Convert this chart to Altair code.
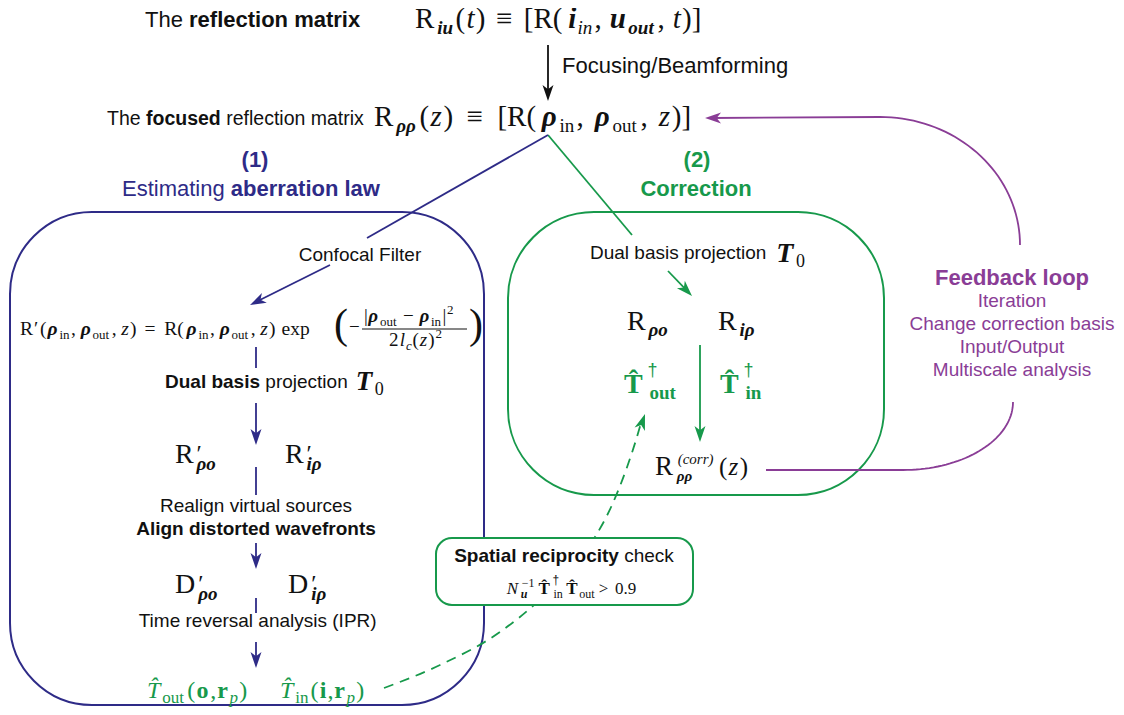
import math
import numpy as np
import pandas as pd
import altair as alt

BLUE = "#2e2b87"
GREEN = "#17994b"
PURPLE = "#8a3d96"
K = "#111111"

# ---------- approximate glyph advance widths (per 1000 em) ----------
def _tbl(pairs):
    d = {}
    for chars, w in pairs:
        for ch in chars:
            d[ch] = w / 1000
    return d

W_SANS = _tbl([(" ,./ft", 278), ("()-r", 333), ("ijl", 222), ("ckszvxyJ", 500),
               ("0123456789abdeghnopqu", 556), ("m", 833), ("w", 722), ("ABEKPSVXY", 667),
               ("CDHNRU", 722), ("FTZ", 611), ("GOQ", 778), ("I", 278), ("L", 556),
               ("M", 833), ("W", 944), ("†", 556)])
W_SANSB = _tbl([(" ,./", 278), ("()", 333), ("ijlI", 278), ("ft", 333), ("r", 389), ("z", 500),
                ("0123456789acekvsxy", 556), ("bdghnopqu", 611), ("m", 889), ("w", 778),
                ("ABCDHKNRU", 722), ("EPSVXY", 667), ("FTZL", 611), ("GOQ", 778), ("J", 556),
                ("M", 833), ("W", 944)])
W_SERIF = _tbl([(" ,.", 250), ("()[]fr", 333), ("ijlt", 278), ("s", 389), ("acez", 444),
                ("bdghknopquvxy0123456789", 500), ("m", 778), ("w", 722), ("=−>+<≡", 564),
                ("|", 200), ("R", 667), ("DN", 722), ("T", 611), ("′", 275), ("†", 500), ("ρ", 520)])
W_SERIFI = _tbl([(" ,.", 250), ("()", 333), ("iltj", 278), ("rsz", 389), ("ce", 444),
                 ("anopuv", 500), ("m", 722), ("N", 667), ("T", 556), ("R", 611), ("ρ", 500),
                 ("−", 675), ("1", 500)])
W_SERIFB = _tbl([(" ,.", 250), ("()", 333), ("i", 278), ("t", 333), ("r", 444), ("o", 500),
                 ("nup", 556), ("T", 667), ("R", 722), ("D", 722), ("†", 500)])
W_SERIFBI = _tbl([(" ,.", 250), ("it", 278), ("o", 500), ("u", 556), ("p", 500), ("T", 611), ("ρ", 530)])
TABLES = {"S": W_SANS, "SB": W_SANSB, "r": W_SERIF, "i": W_SERIFI, "b": W_SERIFB, "bi": W_SERIFBI}
MATHW = 1.15

STYLE_FONT = {
    "S": ("Liberation Sans", "normal", "normal"),
    "SB": ("Liberation Sans", "bold", "normal"),
    "r": ("Liberation Serif", "normal", "normal"),
    "i": ("Liberation Serif", "normal", "italic"),
    "b": ("Liberation Serif", "bold", "normal"),
    "bi": ("Liberation Serif", "bold", "italic"),
}


def wscale(st):
    return 1 if st in ("S", "SB") else MATHW


def tw(text, st, size):
    t = TABLES[st]
    w = sum(t.get(ch, 0.5) for ch in text if ch != "\u0302")
    return w * size * wscale(st)


def P(text, st, size, dy=0, gap=0, adv=None):
    return (text, st, size, dy, gap, adv)


H = "T\u0302"

# ---------- text rows: (x, baseline y, anchor, colour, pieces) ----------
ROWS = [
    (145, 27, "left", K, [P("The ", "S", 22), P("reflection matrix", "SB", 22)]),
    (415, 28, "left", K, [P("R", "r", 29), P("iu", "bi", 19, 6), P("(", "r", 29), P("t", "i", 29),
                          P(")", "r", 29), P("≡", "r", 29, 0, 9), P("[R(", "r", 29, 0, 9),
                          P("i", "bi", 29), P("in", "i", 19, 6), P(",", "r", 29),
                          P("u", "bi", 29, 0, 7), P("out", "bi", 19, 6), P(",", "r", 29),
                          P("t", "i", 29, 0, 7), P(")]", "r", 29)]),
    (562, 73, "left", K, [P("Focusing/Beamforming", "S", 22)]),
    (107, 125, "left", K, [P("The ", "S", 19.5), P("focused", "SB", 19.5), P(" reflection matrix", "S", 19.5)]),
    (374, 126, "left", K, [P("R", "r", 29), P("ρρ", "bi", 19, 6), P("(", "r", 29), P("z", "i", 29),
                           P(")", "r", 29), P("≡", "r", 29, 0, 12), P("[R(", "r", 29, 0, 12),
                           P("ρ", "bi", 29), P("in", "r", 19, 6), P(",", "r", 29),
                           P("ρ", "bi", 29, 0, 10), P("out", "r", 19, 6), P(",", "r", 29),
                           P("z", "i", 29, 0, 10), P(")]", "r", 29)]),
    (255, 167, "center", BLUE, [P("(1)", "SB", 22)]),
    (122, 196, "left", BLUE, [P("Estimating ", "S", 22), P("aberration law", "SB", 22)]),
    (697, 167, "center", GREEN, [P("(2)", "SB", 22)]),
    (696, 196, "center", GREEN, [P("Correction", "SB", 22)]),
    (360, 261, "center", K, [P("Confocal Filter", "S", 19)]),
    (590, 259, "left", K, [P("Dual basis projection", "S", 19), P("T", "bi", 28, 3, 10), P("0", "r", 18, 8)]),
    # confocal filter formula
    (20, 335, "left", K, [P("R", "r", 19.5), P("′", "r", 19.5, 0, -1), P("(", "r", 19.5), P("ρ", "bi", 19.5),
                          P("in", "r", 13, 4), P(",", "r", 19.5), P("ρ", "bi", 19.5, 0, 4),
                          P("out", "r", 13, 4), P(",", "r", 19.5), P("z", "i", 19.5, 0, 4), P(")", "r", 19.5),
                          P("=", "r", 19.5, 0, 7), P("R(", "r", 19.5, 0, 7), P("ρ", "bi", 19.5),
                          P("in", "r", 13, 4), P(",", "r", 19.5), P("ρ", "bi", 19.5, 0, 4),
                          P("out", "r", 13, 4), P(",", "r", 19.5), P("z", "i", 19.5, 0, 4), P(")", "r", 19.5),
                          P("exp", "r", 19.5, 0, 5)]),
    (334, 338, "left", K, [P("(", "r", 42)]),
    (469, 338, "left", K, [P(")", "r", 42)]),
    (349, 333, "left", K, [P("−", "r", 19)]),
    (364, 322, "left", K, [P("|", "r", 19), P("ρ", "bi", 19), P("out", "r", 13, 4), P("−", "r", 19, 0, 4),
                           P("ρ", "bi", 19, 0, 4), P("in", "r", 13, 4), P("|", "r", 19), P("2", "r", 13, -8)]),
    (416, 346, "center", K, [P("2", "r", 19), P("l", "i", 19), P("c", "i", 13, 4), P("(", "r", 19),
                             P("z", "i", 19), P(")", "r", 19), P("2", "r", 13, -8)]),
    (165, 388, "left", K, [P("Dual basis", "SB", 19), P(" projection", "S", 19),
                           P("T", "bi", 27, 2, 8), P("0", "r", 18, 7)]),
    (175, 463, "left", K, [P("R", "r", 28), P("′", "r", 24, -2, 0, 0), P("ρo", "bi", 19, 7)]),
    (285, 463, "left", K, [P("R", "r", 28), P("′", "r", 24, -2, 0, 0), P("iρ", "bi", 19, 7)]),
    (256, 512, "center", K, [P("Realign virtual sources", "S", 19)]),
    (256, 535, "center", K, [P("Align distorted wavefronts", "SB", 19)]),
    (175, 593, "left", K, [P("D", "r", 28), P("′", "r", 24, -2, 0, 0), P("ρo", "bi", 19, 7)]),
    (288, 593, "left", K, [P("D", "r", 28), P("′", "r", 24, -2, 0, 0), P("iρ", "bi", 19, 7)]),
    (258, 627, "center", K, [P("Time reversal analysis (IPR)", "S", 19)]),
    (147, 698, "left", GREEN, [P(H, "i", 24), P("out", "r", 17, 5), P("(", "r", 24), P("o", "b", 24),
                               P(",", "r", 24), P("r", "b", 24), P("p", "i", 17, 5), P(")", "r", 24)]),
    (280, 698, "left", GREEN, [P(H, "i", 24), P("in", "r", 17, 5), P("(", "r", 24), P("i", "b", 24),
                               P(",", "r", 24), P("r", "b", 24), P("p", "i", 17, 5), P(")", "r", 24)]),
    # correction box
    (627, 330, "left", K, [P("R", "r", 28), P("ρo", "bi", 19, 6)]),
    (718, 330, "left", K, [P("R", "r", 28), P("iρ", "bi", 19, 6)]),
    (624, 393, "left", GREEN, [P(H, "b", 28), P("†", "S", 18, -17, 2, 0), P("out", "b", 19, 6, 2)]),
    (720, 393, "left", GREEN, [P(H, "b", 28), P("†", "S", 18, -17, 2, 0), P("in", "b", 19, 6, 2)]),
    (655, 475, "left", K, [P("R", "r", 27), P("ρρ", "bi", 15, 6, 1, 0), P("(corr)", "i", 15, -11, 1),
                           P("(", "r", 25), P("z", "i", 25), P(")", "r", 25)]),
    # reciprocity check
    (564, 562, "center", K, [P("Spatial reciprocity", "SB", 19), P(" check", "S", 19)]),
    (573, 594, "center", K, [P("N", "i", 17), P("u", "bi", 12, 4, 1, 0), P("−1", "r", 12, -7, 1),
                             P(H, "b", 17, 0, 2), P("†", "S", 12, -10, 1, 0), P("in", "r", 12, 4, 1),
                             P(H, "b", 17, 0, 2), P("out", "r", 12, 4), P(">", "r", 17, 0, 2),
                             P("0.9", "r", 17, 0, 5)]),
    # feedback loop
    (1012, 285, "center", PURPLE, [P("Feedback loop", "SB", 22)]),
    (1012, 307, "center", PURPLE, [P("Iteration", "S", 19)]),
    (1012, 330, "center", PURPLE, [P("Change correction basis", "S", 19)]),
    (1012, 353, "center", PURPLE, [P("Input/Output", "S", 19)]),
    (1012, 376, "center", PURPLE, [P("Multiscale analysis", "S", 19)]),
]

# ---------- boxes: (x1, y1, x2, y2, radius, colour, fill) ----------
BOXES = [
    (10, 212, 484, 705, 82, BLUE, None),
    (508, 212, 884, 495, 86, GREEN, None),
    (436, 538, 693, 605, 16, GREEN, "white"),
]

# ---------- straight segments: (id, colour, width, x1, y1, x2, y2, arrowhead) ----------
SEGMENTS = [
    ("focus", K, 1.8, 548, 45, 548, 101, True),
    ("b1", BLUE, 1.8, 548, 135, 367, 238, False),
    ("b2", BLUE, 1.8, 330, 265, 250, 305, True),
    ("g1", GREEN, 1.8, 548, 135, 632, 235, False),
    ("g2", GREEN, 1.8, 668, 271, 692, 296, True),
    ("g3", GREEN, 1.8, 700, 345, 700, 442, True),
    ("v1", BLUE, 1.8, 256, 347, 256, 368, False),
    ("v2", BLUE, 1.8, 256, 403, 256, 445, True),
    ("v3", BLUE, 1.8, 256, 467, 256, 495, False),
    ("v4", BLUE, 1.8, 256, 543, 256, 569, True),
    ("v5", BLUE, 1.8, 256, 598, 256, 613, False),
    ("v6", BLUE, 1.8, 256, 642, 256, 668, True),
    ("frac", K, 1.1, 362, 329, 467, 329, False),
]

# feedback loop geometry (straight run + elliptical quarter)
PURPLE_TOP = dict(tip=(705, 118), cx=880, cy=245, rx=140, ry=128)
PURPLE_BOT = dict(end=(766, 470), cx=903, cy=402, rx=110, ry=68)
# dashed reciprocity path
DASH_X = [384, 440, 500, 535, 568, 595, 612, 626, 636, 641]
DASH_Y = [688, 665, 632, 604, 570, 537, 505, 470, 440, 423]
DASH_TIP = (645, 414)

ARROW = "M0,0L0.75,2.2L0,1.6L-0.75,2.2Z"

# ---------- build tables ----------
def item_adv(it):
    text, st, size, dy, gap, adv = it
    if adv is not None:
        return gap + adv
    return gap + tw(text, st, size)


pieces = []
for x0, y0, anchor, color, items in ROWS:
    if anchor == "center":
        total = sum(item_adv(it) for it in items)
        cur = x0 - total / 2
    else:
        cur = x0
    for text, st, size, dy, gap, adv in items:
        sp = TABLES[st][" "] * size * wscale(st)
        lead = len(text) - len(text.lstrip(" "))
        trail = len(text) - len(text.rstrip(" "))
        core = text.strip(" ")
        xp = cur + gap + lead * sp
        pieces.append(dict(text=core, x=xp, y=y0 + dy, size=size, style=st, color=color))
        cur = xp + (adv if adv is not None else tw(core, st, size) + trail * sp)
text_df = pd.DataFrame(pieces)

line_rows = []
arrow_rows = []


def add_arrow(tx, ty, fx, fy, color):
    ang = math.degrees(math.atan2(tx - fx, -(ty - fy))) % 360
    arrow_rows.append(dict(x=tx, y=ty, ang=ang, color=color))


for sid, color, w, x1, y1, x2, y2, head in SEGMENTS:
    ex, ey = x2, y2
    if head:
        L = math.hypot(x2 - x1, y2 - y1)
        ex, ey = x2 - 6 * (x2 - x1) / L, y2 - 6 * (y2 - y1) / L
        add_arrow(x2, y2, x1, y1, color)
    line_rows += [dict(id=sid, grp=f"{color}|{w}", ord=0, x=x1, y=y1),
                  dict(id=sid, grp=f"{color}|{w}", ord=1, x=ex, y=ey)]

t = np.linspace(-np.pi / 2, 0, 40)
top_x = [PURPLE_TOP["tip"][0] + 6] + list(PURPLE_TOP["cx"] + PURPLE_TOP["rx"] * np.cos(t))
top_y = [PURPLE_TOP["tip"][1]] + list(PURPLE_TOP["cy"] + PURPLE_TOP["ry"] * np.sin(t))
add_arrow(PURPLE_TOP["tip"][0], PURPLE_TOP["tip"][1], PURPLE_TOP["tip"][0] + 20, PURPLE_TOP["tip"][1], PURPLE)
t2 = np.linspace(0, np.pi / 2, 40)
bot_x = list(PURPLE_BOT["cx"] + PURPLE_BOT["rx"] * np.cos(t2)) + [PURPLE_BOT["end"][0]]
bot_y = list(PURPLE_BOT["cy"] + PURPLE_BOT["ry"] * np.sin(t2)) + [PURPLE_BOT["end"][1]]
for sid, xs, ys in (("ptop", top_x, top_y), ("pbot", bot_x, bot_y)):
    for k, (a, b) in enumerate(zip(xs, ys)):
        line_rows.append(dict(id=sid, grp=f"{PURPLE}|1.8", ord=k, x=a, y=b))
line_df = pd.DataFrame(line_rows)

dash_df = pd.DataFrame(dict(x=DASH_X, y=DASH_Y, ord=range(len(DASH_X))))
add_arrow(DASH_TIP[0], DASH_TIP[1], DASH_X[-2], DASH_Y[-2], GREEN)
arrow_df = pd.DataFrame(arrow_rows)

# ---------- chart ----------
XS = alt.Scale(domain=[8, 1116], nice=False, zero=False)
YS = alt.Scale(domain=[8, 707], nice=False, zero=False, reverse=True)
X = alt.X("x:Q", scale=XS, axis=None)
Y = alt.Y("y:Q", scale=YS, axis=None)

box_layers, small_box = [], []
for x1, y1, x2, y2, r, col, fill in BOXES:
    bdf = pd.DataFrame([dict(x=x1, y=y1, x2=x2, y2=y2)])
    if fill:
        mk = alt.Chart(bdf).mark_rect(cornerRadius=r, fill=fill, stroke=col, strokeWidth=2)
        small_box.append(mk.encode(x=X, x2="x2:Q", y=Y, y2="y2:Q"))
    else:
        mk = alt.Chart(bdf).mark_rect(cornerRadius=r, filled=False, stroke=col, strokeWidth=2)
        box_layers.append(mk.encode(x=X, x2="x2:Q", y=Y, y2="y2:Q"))

line_layers = []
for grp, gdf in line_df.groupby("grp"):
    col, w = grp.split("|")
    line_layers.append(alt.Chart(gdf).mark_line(color=col, strokeWidth=float(w)).encode(
        x=X, y=Y, detail="id:N", order="ord:Q"))
line_layers.append(alt.Chart(dash_df).mark_line(color=GREEN, strokeWidth=1.8, strokeDash=[10, 7],
                                                interpolate="monotone").encode(x=X, y=Y, order="ord:Q"))

arrow_layer = alt.Chart(arrow_df).mark_point(shape=ARROW, filled=True, opacity=1, size=213, strokeWidth=0).encode(
    x=X, y=Y, angle=alt.Angle("ang:Q", scale=None), color=alt.Color("color:N", scale=None))

text_layers = []
for st, (font, weight, fstyle) in STYLE_FONT.items():
    sdf = text_df[text_df["style"] == st]
    if len(sdf) == 0:
        continue
    text_layers.append(alt.Chart(sdf).mark_text(font=font, fontWeight=weight, fontStyle=fstyle,
                                                align="left", baseline="alphabetic").encode(
        x=X, y=Y, text="text:N", size=alt.Size("size:Q", scale=None),
        color=alt.Color("color:N", scale=None)))

chart = alt.layer(*box_layers, *line_layers, *small_box, arrow_layer, *text_layers).properties(
    width=1108, height=699, padding=0, autosize="none", background="white"
).configure_view(stroke=None)

chart.save("out.html", embed_options={"renderer": "svg", "actions": False})
